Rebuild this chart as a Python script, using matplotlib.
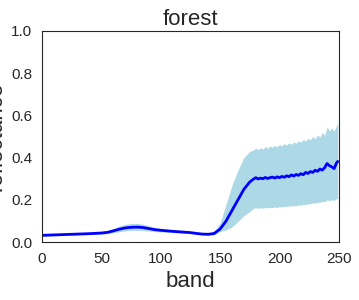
import matplotlib
matplotlib.use("Agg")
import matplotlib.pyplot as plt
import seaborn as sns

# spectral band index and reflectance summary (mean, upper/lower envelope)
bands = [0, 10, 20, 30, 40, 50, 55, 60, 65, 70, 75, 80, 85, 90, 95, 100,
         110, 120, 125, 130, 135, 140, 145, 150, 155, 160, 165, 170, 175,
         178, 180, 182, 184, 186, 188, 190, 192, 194, 196, 198, 200, 202,
         204, 206, 208, 210, 212, 214, 216, 218, 220, 222, 224, 226, 228,
         230, 232, 234, 236, 238, 240, 242, 244, 246, 248, 249]
mean_refl = [0.032, 0.034, 0.036, 0.038, 0.040, 0.043, 0.046, 0.053, 0.061,
             0.067, 0.070, 0.071, 0.069, 0.064, 0.059, 0.056, 0.051, 0.047,
             0.045, 0.041, 0.038, 0.037, 0.041, 0.062, 0.100, 0.150, 0.200,
             0.250, 0.285,
             0.298, 0.305, 0.299, 0.303, 0.300, 0.306, 0.301, 0.305, 0.308,
             0.303, 0.309, 0.305, 0.311, 0.307, 0.314, 0.310, 0.318, 0.313,
             0.320, 0.316, 0.324, 0.319, 0.330, 0.325, 0.334, 0.330, 0.340,
             0.335, 0.346, 0.341, 0.352, 0.372, 0.362, 0.356, 0.348, 0.375,
             0.382]
upper_refl = [0.037, 0.039, 0.041, 0.043, 0.045, 0.049, 0.053, 0.064, 0.076,
              0.084, 0.088, 0.089, 0.085, 0.077, 0.069, 0.064, 0.057, 0.052,
              0.050, 0.046, 0.042, 0.041, 0.050, 0.090, 0.180, 0.270, 0.340,
              0.400, 0.430,
              0.436, 0.445, 0.438, 0.447, 0.440, 0.452, 0.444, 0.455, 0.449,
              0.458, 0.452, 0.462, 0.455, 0.466, 0.460, 0.470, 0.463, 0.474,
              0.468, 0.480, 0.472, 0.486, 0.478, 0.492, 0.484, 0.500, 0.490,
              0.508, 0.497, 0.520, 0.505, 0.545, 0.528, 0.540, 0.525, 0.552,
              0.560]
lower_refl = [0.028, 0.030, 0.032, 0.034, 0.036, 0.038, 0.040, 0.044, 0.049,
              0.053, 0.055, 0.056, 0.055, 0.052, 0.050, 0.048, 0.045, 0.042,
              0.040, 0.037, 0.034, 0.033, 0.034, 0.050, 0.058, 0.072, 0.098,
              0.125, 0.145,
              0.160, 0.163, 0.160, 0.162, 0.161, 0.164, 0.162, 0.165, 0.163,
              0.166, 0.164, 0.168, 0.166, 0.170, 0.168, 0.172, 0.170, 0.174,
              0.172, 0.176, 0.175, 0.179, 0.178, 0.182, 0.181, 0.186, 0.184,
              0.189, 0.188, 0.193, 0.192, 0.200, 0.196, 0.201, 0.198, 0.205,
              0.208]

sns.set_style("white")
plt.rcParams["font.family"] = ["Liberation Sans", "DejaVu Sans"]

fig = plt.figure(figsize=(3.59, 3.0), dpi=100)
ax = fig.add_axes([0.117, 0.193, 0.827, 0.704])
ax.fill_between(bands, lower_refl, upper_refl, color="lightblue", linewidth=0)
ax.plot(bands, mean_refl, color="blue", linewidth=2.0)
ax.set_xlim(0, 250)
ax.set_ylim(0, 1.0)
ax.set_xticks([0, 50, 100, 150, 200, 250])
ax.set_yticks([0.0, 0.2, 0.4, 0.6, 0.8, 1.0])
ax.tick_params(labelsize=11)
ax.set_title("forest", fontsize=16, pad=4)
ax.set_xlabel("band", fontsize=16)
ax.set_ylabel("reflectance", fontsize=16)
ax.yaxis.set_label_coords(-0.12, 0.5)
fig.savefig("out.png", dpi=100)
